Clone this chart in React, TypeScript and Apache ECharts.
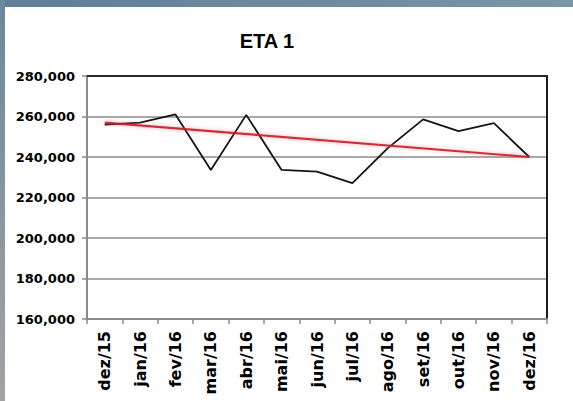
import React, { useEffect, useRef } from "react";
import * as echarts from "echarts";

// Monthly readings for ETA 1
const months = [
  "dez/15", "jan/16", "fev/16", "mar/16", "abr/16", "mai/16", "jun/16",
  "jul/16", "ago/16", "set/16", "out/16", "nov/16", "dez/16",
];
const readings = [
  256000, 257000, 261000, 233600, 260800, 233600, 232800,
  227100, 244400, 258600, 252800, 256700, 240000,
];
// Trend line end points (first and last month)
const trend = [
  257000, null, null, null, null, null, null,
  null, null, null, null, null, 240000,
];
const yMin = 160000;
const yMax = 280000;
const yStep = 20000;

const LABEL_FONT = "'DejaVu Sans', Verdana, sans-serif";

export default function App() {
  const ref = useRef<HTMLDivElement>(null);

  useEffect(() => {
    if (!ref.current) return;
    const chart = echarts.init(ref.current, undefined, { renderer: "svg" });
    chart.setOption({
      animation: false,
      backgroundColor: "#ffffff",
      graphic: [
        {
          type: "rect",
          shape: { x: 0, y: 0, width: 573, height: 7 },
          style: {
            fill: new echarts.graphic.LinearGradient(0, 0, 1, 0, [
              { offset: 0, color: "#5f7e97" },
              { offset: 1, color: "#7b95a8" },
            ]),
          },
          z: 10,
        },
        {
          type: "rect",
          shape: { x: 0, y: 0, width: 5, height: 401 },
          style: {
            fill: new echarts.graphic.LinearGradient(0, 0, 0, 1, [
              { offset: 0, color: "#6a88a0" },
              { offset: 1, color: "#a3a3a3" },
            ]),
          },
          z: 10,
        },
        {
          type: "text",
          x: 267,
          y: 41,
          style: {
            text: "ETA 1",
            fill: "#000",
            font: "bold 20px 'Liberation Sans', Arial, sans-serif",
            textAlign: "center",
            textVerticalAlign: "middle",
          },
        },
      ],
      grid: { left: 87, right: 26, top: 76, bottom: 82 },
      xAxis: [
        {
          type: "category",
          data: months,
          boundaryGap: true,
          axisLine: { lineStyle: { color: "#8a8a8a", width: 2 } },
          axisTick: { show: true, length: 5, lineStyle: { color: "#8a8a8a", width: 1.5 } },
          axisLabel: {
            rotate: 90,
            margin: 12,
            interval: 0,
            color: "#000",
            fontFamily: LABEL_FONT,
            fontWeight: "bold",
            fontSize: 16,
          },
        },
        {
          type: "category",
          data: months,
          position: "top",
          axisLine: { lineStyle: { color: "#2a2a2a", width: 2 } },
          axisTick: { show: false },
          axisLabel: { show: false },
        },
      ],
      yAxis: [
        {
          type: "value",
          min: yMin,
          max: yMax,
          interval: yStep,
          axisLine: { show: true, lineStyle: { color: "#8a8a8a", width: 2 } },
          axisTick: { show: true, length: 5, lineStyle: { color: "#8a8a8a", width: 1.5 } },
          splitLine: { lineStyle: { color: "#8c8c8c", width: 1.5 } },
          axisLabel: {
            margin: 12,
            color: "#000",
            fontFamily: LABEL_FONT,
            fontWeight: "bold",
            fontSize: 13,
            formatter: (v: number) => v.toLocaleString("en-US"),
          },
        },
        {
          type: "value",
          min: yMin,
          max: yMax,
          interval: yStep,
          position: "right",
          axisLine: { show: true, lineStyle: { color: "#1a1a1a", width: 2 } },
          axisTick: { show: false },
          axisLabel: { show: false },
          splitLine: { show: false },
        },
      ],
      series: [
        {
          type: "line",
          data: readings,
          symbol: "none",
          lineStyle: { color: "#141414", width: 1.8 },
          z: 3,
        },
        {
          type: "line",
          data: trend,
          connectNulls: true,
          symbol: "none",
          lineStyle: {
            color: "#c41e2a",
            width: 2.2,
            opacity: 0.9,
            shadowColor: "rgba(255,90,90,0.6)",
            shadowBlur: 4,
          },
          z: 4,
        },
      ],
    });
    return () => chart.dispose();
  }, []);

  return (
    <div
      ref={ref}
      style={{ position: "fixed", left: 0, top: 0, width: 573, height: 401 }}
    />
  );
}
